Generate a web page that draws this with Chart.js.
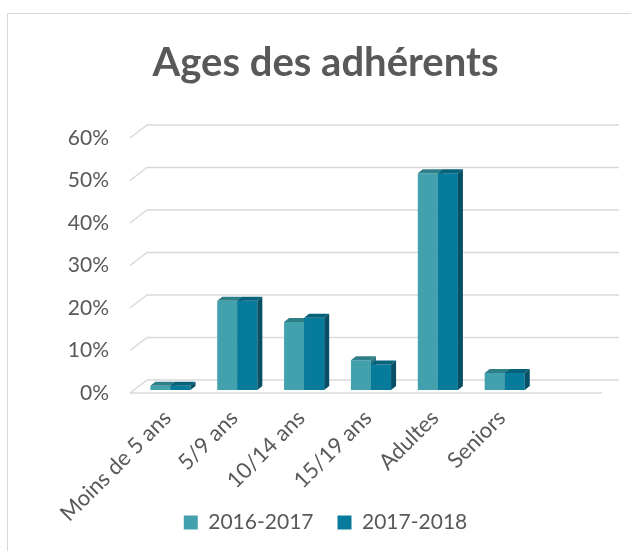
<!DOCTYPE html>
<html>
<head>
<meta charset="utf-8">
<script src="https://cdn.jsdelivr.net/npm/chart.js@4"></script>
<style>
  html, body { margin: 0; padding: 0; background: #fff; overflow: hidden; }
  #box {
    position: absolute; left: 7px; top: 13px;
    width: 635px; height: 545px;
    border-left: 1.5px solid #d9d9d9; border-top: 1.5px solid #d9d9d9;
  }
</style>
</head>
<body>
<div id="box"><canvas id="myChart" width="635" height="545"></canvas></div>
<script>
// data (last category is the empty slot Excel leaves)
const categories = ["Moins de 5 ans", "5/9 ans", "10/14 ans", "15/19 ans", "Adultes", "Seniors", ""];
const season1 = [0.01, 0.21, 0.16, 0.07, 0.51, 0.04, null];
const season2 = [0.01, 0.21, 0.17, 0.06, 0.51, 0.04, null];
const yTicks = [0, 0.1, 0.2, 0.3, 0.4, 0.5, 0.6];

const textColor = "#595959";
const fontName = "Lato, 'Open Sans', sans-serif";

// front / top / side colours of each series
const faces = [
    { front: "#43a1ae", top: "#2f7f89", side: "#2c7480" },
    { front: "#077b9b", top: "#05627b", side: "#064f65" }
];

// fake 3D: back wall grid lines and boxes with depth
const depth3d = {
    id: "depth3d",
    beforeDatasetsDraw(chart) {
        const c = chart.ctx;
        const area = chart.chartArea;
        const y = chart.scales.y;
        const dx = 17, dy = 13;
        const x0 = area.left - 4;
        c.save();
        c.strokeStyle = "#d9d9d9";
        c.lineWidth = 1.5;
        yTicks.forEach((v) => {
            const py = y.getPixelForValue(v);
            c.beginPath();
            c.moveTo(x0, py);
            c.lineTo(x0 + dx, py - dy);
            c.lineTo(area.right + dx, py - dy);
            if (v === 0) {
                c.moveTo(x0, py);
                c.lineTo(area.right, py);
            }
            c.stroke();
        });

        // bars, drawn a little behind the front plane
        const bx = 3, by = -3, bdx = 5, bdy = 4;
        chart.data.datasets.forEach((ds, i) => {
            const meta = chart.getDatasetMeta(i);
            meta.data.forEach((bar, j) => {
                if (ds.data[j] == null) return;
                const p = bar.getProps(["x", "y", "base", "width"], true);
                const l = p.x - p.width / 2 + bx;
                const r = p.x + p.width / 2 + bx;
                const t = p.y + by;
                const b = p.base + by;
                c.fillStyle = faces[i].front;
                c.fillRect(l, t, r - l, b - t);
                c.fillStyle = faces[i].top;
                c.beginPath();
                c.moveTo(l, t);
                c.lineTo(r, t);
                c.lineTo(r + bdx, t - bdy);
                c.lineTo(l + bdx, t - bdy);
                c.closePath();
                c.fill();
                c.fillStyle = faces[i].side;
                c.beginPath();
                c.moveTo(r, t);
                c.lineTo(r + bdx, t - bdy);
                c.lineTo(r + bdx, b - bdy);
                c.lineTo(r, b);
                c.closePath();
                c.fill();
            });
        });
        c.restore();
        return false;
    }
};

new Chart(document.getElementById("myChart"), {
    type: "bar",
    data: {
        labels: categories,
        datasets: [
            { label: "2016-2017", data: season1, backgroundColor: faces[0].front },
            { label: "2017-2018", data: season2, backgroundColor: faces[1].front }
        ]
    },
    options: {
        responsive: false,
        animation: false,
        layout: { padding: { top: 25, bottom: 16, left: 0, right: 0 } },
        datasets: { bar: { categoryPercentage: 0.6, barPercentage: 1 } },
        scales: {
            x: {
                grid: { display: false, drawTicks: false },
                border: { display: false },
                ticks: {
                    color: textColor,
                    font: { family: fontName, size: 22 },
                    maxRotation: 45, minRotation: 45,
                    padding: 12
                },
                afterFit(scale) {
                    scale.height = 95;
                    // let the slanted labels run down past the axis box, like in Excel
                    scale._computeLabelArea = () => undefined;
                }
            },
            y: {
                min: 0, max: 0.6,
                grid: { display: false, drawTicks: false },
                border: { display: false },
                ticks: {
                    stepSize: 0.1,
                    color: textColor,
                    font: { family: fontName, size: 21 },
                    padding: 25,
                    callback: (v) => Math.round(v * 100) + "%"
                },
                afterFit(scale) { scale.width = 126; }
            },
            // empty right margin of the plot, keeps title and legend centred on the box
            spacer: {
                type: "linear",
                position: "right",
                grid: { display: false, drawTicks: false },
                border: { display: false },
                ticks: { display: false },
                afterFit(scale) { scale.width = 41; }
            }
        },
        plugins: {
            title: {
                display: true,
                text: "Ages des adhérents",
                color: textColor,
                font: { family: fontName, size: 40, weight: "bold" },
                padding: { top: 0, bottom: 51 }
            },
            legend: {
                position: "bottom",
                labels: {
                    color: textColor,
                    font: { family: fontName, size: 21 },
                    boxWidth: 14, boxHeight: 14,
                    padding: 24
                }
            },
            tooltip: { enabled: false }
        }
    },
    plugins: [depth3d]
});
</script>
</body>
</html>
